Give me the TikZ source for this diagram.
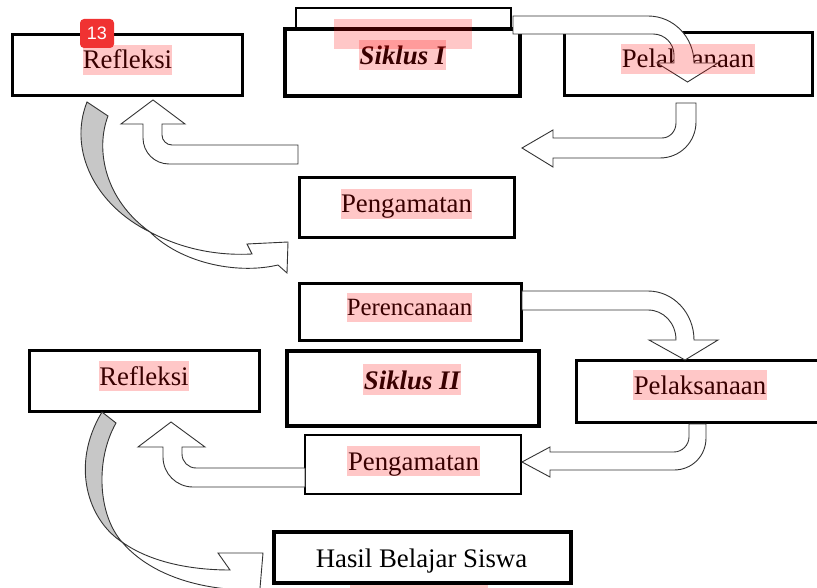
\documentclass[tikz,border=0pt]{standalone}
\usepackage{fontspec}
\setmainfont{Liberation Serif}
\newfontfamily\badgefont{Liberation Sans}
\begin{document}
\begin{tikzpicture}[x=1pt,y=-1pt,
  bx/.style={draw=black, fill=white, inner sep=0pt, outer sep=0pt, line width=#1},
  bx/.default=3pt,
  lbl/.style={anchor=base, inner sep=0pt, font=\fontsize{26.8}{30}\selectfont},
  barrow/.style={draw=black!80, fill=white, line width=0.9pt, line join=miter},
  backside/.style={draw=black!80, fill=black!22, line width=0.9pt},
  hl/.style={fill=red, fill opacity=0.22},
]
\useasboundingbox (0,0) rectangle (817,588);

% boxes
\node[bx=2.5pt, minimum width=215, minimum height=22] (top0) at (403.5,19) {};
\node[bx=4.5pt, minimum width=235, minimum height=67] (sik1) at (402.5,62.5) {};
\node[bx, minimum width=230, minimum height=61] (ref1) at (127,65.5) {};
\node[bx, minimum width=248, minimum height=63] (pel1) at (688,64.5) {};
\node[bx, minimum width=215, minimum height=60] (pen1) at (406.5,208) {};
\node[bx, minimum width=222, minimum height=56] (per2) at (410,312) {};
\node[bx=4.5pt, minimum width=252, minimum height=75] (sik2) at (413,388.5) {};
\node[bx, minimum width=246, minimum height=62] (pel2) at (699,391) {};
\node[bx, minimum width=230, minimum height=61] (ref2) at (144,380.5) {};
\node[bx=2.5pt, minimum width=216, minimum height=59] (pen2) at (413,464.5) {};
\node[bx=4.5pt, minimum width=297, minimum height=51] (has) at (422.5,557.5) {};

% labels
\node[lbl] (tref1) at (127.5,69) {Refleksi};
\node[lbl] (tsik1) at (402.5,64.5) {\bfseries\itshape Siklus I};
\node[lbl] (tpel1) at (688,67.5) {Pelaksanaan};
\node[lbl] (tpen1) at (406.5,213) {Pengamatan};
\node[lbl, font=\fontsize{24.8}{28}\selectfont] (tper2) at (409.5,316) {Perencanaan};
\node[lbl] (tsik2) at (412,389) {\bfseries\itshape Siklus II};
\node[lbl] (tpel2) at (700,394) {Pelaksanaan};
\node[lbl] (tref2) at (144,385) {Refleksi};
\node[lbl] (tpen2) at (413.5,470) {Pengamatan};
\node[lbl] (thas) at (421.5,567) {Hasil Belajar Siswa};

% block arrows, cycle I
\draw[barrow] (513,16) -- (648,16) .. controls (673.4,16) and (694,37) .. (694,63)
  -- (718,63) -- (687.5,82) -- (657,63) -- (674,63) -- (674,55)
  .. controls (674,43.4) and (664.6,34) .. (653,34) -- (513,34) -- cycle;
\draw[barrow] (676,103) -- (676,123) .. controls (676,131) and (670,138) .. (662,138)
  -- (553,138) -- (553,130) -- (522,148) -- (553,167) -- (553,158) -- (660,158)
  .. controls (680,158) and (696,142) .. (696,122) -- (696,103) -- cycle;
\draw[barrow] (298,145) -- (172,145) .. controls (166.5,145) and (162,140.5) .. (162,135)
  -- (162,124) -- (185,124) -- (153,100) -- (121,124) -- (143,124) -- (143,138)
  .. controls (143,152.4) and (154.6,164) .. (169,164) -- (298,164) -- cycle;
\draw[backside] (87,102) -- (108,116) .. controls (95,150) and (105,200) .. (150,232)
  .. controls (95,205) and (68,150) .. (87,102) -- cycle;
\draw[barrow] (150,232) .. controls (180,248) and (215,256) .. (252,254) -- (247,244)
  -- (288,242) -- (287,273) -- (278,265) .. controls (235,275) and (180,262) .. (150,232) -- cycle;

% block arrows, cycle II
\draw[barrow] (522,291) -- (648,291) .. controls (673.4,291) and (694,313) .. (694,340)
  -- (718,340) -- (685,360) -- (649,340) -- (676,340)
  .. controls (676,323) and (663.5,310) .. (648,310) -- (522,310) -- cycle;
\draw[barrow] (689,424) -- (689,437) .. controls (689,445) and (682,452) .. (674,452)
  -- (550,452) -- (550,447) -- (522,462) -- (550,477) -- (550,470) -- (674,470)
  .. controls (692,470) and (706,456) .. (706,438) -- (706,424) -- cycle;
\draw[barrow] (305,468) -- (196,468) .. controls (188.3,468) and (182,461.7) .. (182,454)
  -- (182,447) -- (205,447) -- (171,422) -- (138,447) -- (163,447) -- (163,457)
  .. controls (163,473.6) and (176.4,487) .. (193,487) -- (305,487) -- cycle;
\draw[backside] (102,412) -- (116,423) .. controls (95,460) and (98,515) .. (122,542)
  .. controls (88,520) and (70,465) .. (102,412) -- cycle;
\draw[barrow] (122,542) .. controls (150,562) and (190,570) .. (230,570) -- (218,553)
  -- (263,553) -- (259,600) -- (250,590) .. controls (200,590) and (150,575) .. (122,542) -- cycle;

% highlights
\fill[hl] (83,45) rectangle (172,75);
\fill[hl] (334,19) rectangle (472,49);
\fill[hl] (359,40) rectangle (446,70);
\fill[hl] (621,44) rectangle (755,74);
\fill[hl] (341,189) rectangle (472,219);
\fill[hl] (347,293) rectangle (472,322);
\fill[hl] (363,364) rectangle (461,395);
\fill[hl] (633,370) rectangle (767,400);
\fill[hl] (99,361) rectangle (189,391);
\fill[hl] (347,446) rectangle (480,476);
\fill[hl] (350,585) rectangle (488,595);

% badge
\node[fill={rgb,255:red,240;green,50;blue,50}, rounded corners=4pt, minimum width=34,
  minimum height=29, inner sep=0pt, text=white,
  font=\badgefont\fontsize{18}{18}\selectfont] (badge) at (97,33.5) {13};
\end{tikzpicture}
\end{document}
